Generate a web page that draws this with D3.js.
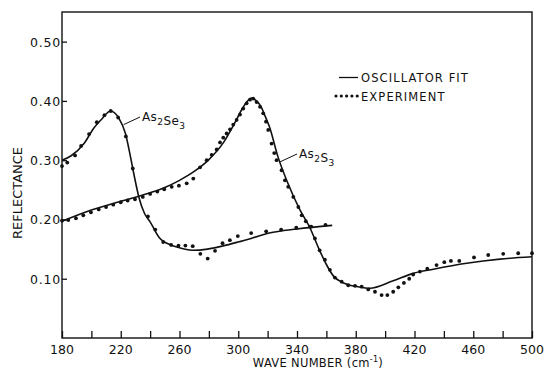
<!DOCTYPE html>
<html>
<head>
<meta charset="utf-8">
<script src="https://cdn.jsdelivr.net/npm/d3@7"></script>
<style>
  body { margin: 0; background: #fff; }
  svg text { font-family: "DejaVu Sans", "Liberation Sans", Arial, sans-serif; fill: #111; }
</style>
</head>
<body>
<div id="chart"></div>
<script>
// tick values
const xTicks = [180, 200, 220, 240, 260, 280, 300, 320, 340, 360, 380, 400, 420, 440, 460, 480, 500];
const xTickLabels = [180, 220, 260, 300, 340, 380, 420, 460, 500];
const yTickLabels = [0.10, 0.20, 0.30, 0.40, 0.50];

// As2Se3 oscillator fit [wave number, reflectance]
const seFit = [[180, 0.300], [186, 0.307], [195, 0.328], [201.6, 0.354], [207.3, 0.370], [213, 0.383],
  [218.7, 0.371], [223.2, 0.345], [226.6, 0.306], [229.3, 0.272], [232.3, 0.238], [236.2, 0.210],
  [240, 0.196], [246, 0.170], [255, 0.156], [262, 0.151], [269, 0.148], [279, 0.150], [289, 0.155],
  [300, 0.162], [310, 0.169], [321, 0.177], [340, 0.184], [364, 0.190]];

// As2Se3 experiment
const seExp = [[180, 0.290], [183.6, 0.296], [188.9, 0.308], [193, 0.324], [198.4, 0.344], [203.7, 0.364],
  [208.9, 0.376], [213.2, 0.383], [218.2, 0.372], [223.5, 0.340], [228.2, 0.286], [238.5, 0.205],
  [243.5, 0.183], [248.9, 0.162], [254.3, 0.157], [259.3, 0.156], [264, 0.156], [269, 0.155],
  [274.2, 0.142], [279.2, 0.134], [284.2, 0.147], [289.3, 0.160], [294.3, 0.165], [299.7, 0.172],
  [308.8, 0.177], [319, 0.180], [329.2, 0.183], [339.5, 0.186], [349.7, 0.188], [359.4, 0.191]];

// As2S3 oscillator fit
const sFit = [[180, 0.197], [200, 0.216], [222, 0.232], [240, 0.245], [250, 0.254], [260, 0.266],
  [270, 0.281], [280, 0.301], [290, 0.330], [297, 0.360], [303, 0.388], [306, 0.399], [309, 0.405],
  [312, 0.401], [315.6, 0.390], [318, 0.376], [321.3, 0.356], [327, 0.306], [333.8, 0.261],
  [342, 0.216], [348.8, 0.186], [355, 0.150], [360, 0.124], [365, 0.104], [370, 0.095],
  [375, 0.090], [381.5, 0.0865], [389.5, 0.084], [405, 0.096], [419, 0.109], [432.8, 0.116],
  [455.5, 0.126], [478.2, 0.133], [500, 0.137]];

// As2S3 experiment
const sExp = [[180, 0.198], [184.3, 0.199], [189.5, 0.202], [194.5, 0.207], [199.7, 0.212], [205, 0.217],
  [210, 0.221], [214.9, 0.225], [220, 0.229], [224.7, 0.232], [229.7, 0.234], [235, 0.238],
  [240, 0.243], [244.9, 0.247], [249.6, 0.251], [254.7, 0.255], [259.6, 0.257], [264.9, 0.261],
  [269.4, 0.269], [274, 0.288], [278.5, 0.300], [281.9, 0.309], [285.3, 0.318], [287.6, 0.330],
  [289.8, 0.338], [292.1, 0.345], [294.4, 0.352], [296.6, 0.360], [298.9, 0.368], [301.2, 0.377],
  [303.4, 0.387], [305.7, 0.396], [308, 0.402], [310.2, 0.404], [312.5, 0.398], [314.8, 0.390],
  [317, 0.379], [318.9, 0.365], [320.4, 0.351], [322.7, 0.328], [324.5, 0.312], [326.1, 0.300],
  [329.5, 0.283], [331.8, 0.266], [334, 0.255], [337.5, 0.238], [340.9, 0.221], [343.2, 0.207],
  [346, 0.197], [348.8, 0.188], [352.2, 0.168], [355.4, 0.148], [359, 0.132], [362.4, 0.115],
  [365.8, 0.102], [370.4, 0.095], [374.9, 0.089], [379.5, 0.088], [384, 0.0866], [388.5, 0.082],
  [393.1, 0.078], [397.6, 0.0725], [401.5, 0.0725], [405.5, 0.078], [409, 0.0855], [412.8, 0.093],
  [416.4, 0.100], [419.1, 0.107], [423.7, 0.112], [428.7, 0.117], [435, 0.123], [440.3, 0.128],
  [444.8, 0.130], [450.5, 0.130], [460.5, 0.136], [470.2, 0.140], [480.4, 0.142], [490.6, 0.143],
  [500, 0.143]];

const width = 548, height = 370;
const margin = { top: 12, right: 16, bottom: 32, left: 62 };

const svg = d3.select("#chart").append("svg")
  .attr("width", width)
  .attr("height", height);

const x = d3.scaleLinear().domain([180, 500]).range([margin.left, width - margin.right]);
const y = d3.scaleLinear().domain([0, 0.55]).range([height - margin.bottom, margin.top]);

// frame
svg.append("rect")
  .attr("x", x(180)).attr("y", y(0.55))
  .attr("width", x(500) - x(180)).attr("height", y(0) - y(0.55))
  .attr("fill", "none").attr("stroke", "#111").attr("stroke-width", 1.4);

// x axis: ticks point inward
const xAxis = svg.append("g")
  .attr("transform", `translate(0,${y(0)})`)
  .call(d3.axisTop(x).tickValues(xTicks).tickSize(7).tickFormat(""));
xAxis.select(".domain").remove();
xAxis.selectAll(".tick line").attr("stroke", "#111").attr("stroke-width", 1.3);

svg.append("g").selectAll("text")
  .data(xTickLabels)
  .enter().append("text")
  .attr("x", d => x(d))
  .attr("y", y(0) + 16)
  .attr("text-anchor", "middle")
  .style("font-size", "12.5px")
  .text(d => d);

// y axis
const yAxis = svg.append("g")
  .attr("transform", `translate(${x(180)},0)`)
  .call(d3.axisRight(y).tickValues(yTickLabels).tickSize(5).tickFormat(""));
yAxis.select(".domain").remove();
yAxis.selectAll(".tick line").attr("stroke", "#111").attr("stroke-width", 1.3);

svg.append("g").selectAll("text")
  .data(yTickLabels)
  .enter().append("text")
  .attr("x", x(180) - 1)
  .attr("y", d => y(d) + 5)
  .attr("text-anchor", "end")
  .style("font-size", "12.5px")
  .style("letter-spacing", "0.8px")
  .text(d => d.toFixed(2));

// axis titles
svg.append("text")
  .attr("transform", `translate(22,193) rotate(-90)`)
  .attr("text-anchor", "middle")
  .style("font-size", "13px")
  .text("REFLECTANCE");

const xTitle = svg.append("text")
  .attr("x", 318)
  .attr("y", 367)
  .attr("text-anchor", "middle")
  .style("font-size", "11.5px")
  .style("letter-spacing", "0.3px");
xTitle.append("tspan").text("WAVE NUMBER  (cm");
xTitle.append("tspan").attr("dy", -5).style("font-size", "8px").text("-1");
xTitle.append("tspan").attr("dy", 5).text(")");

// curves
const line = d3.line()
  .x(d => x(d[0]))
  .y(d => y(d[1]))
  .curve(d3.curveMonotoneX);

[seFit, sFit].forEach(series => {
  svg.append("path")
    .datum(series)
    .attr("fill", "none")
    .attr("stroke", "#111")
    .attr("stroke-width", 1.6)
    .attr("d", line);
});

[seExp, sExp].forEach(series => {
  svg.append("g").selectAll("circle")
    .data(series)
    .enter().append("circle")
    .attr("cx", d => x(d[0]))
    .attr("cy", d => y(d[1]))
    .attr("r", 1.9)
    .attr("fill", "#111");
});

// curve labels with leader lines
function chemLabel(tx, ty, parts) {
  const t = svg.append("text").attr("x", tx).attr("y", ty)
    .style("font-size", "12px").style("letter-spacing", "0.4px");
  parts.forEach(p => {
    if (p.sub) {
      t.append("tspan").attr("dy", 4).style("font-size", "9px").text(p.s);
      t.append("tspan").attr("dy", -4).text("");
    } else {
      t.append("tspan").text(p.s);
    }
  });
}

svg.append("line")
  .attr("x1", 140).attr("y1", 117)
  .attr("x2", x(222)).attr("y2", y(0.36))
  .attr("stroke", "#111").attr("stroke-width", 1);
chemLabel(142, 121, [{ s: "As" }, { s: "2", sub: true }, { s: "Se" }, { s: "3", sub: true }]);

svg.append("line")
  .attr("x1", 297).attr("y1", 154)
  .attr("x2", x(328.3)).attr("y2", y(0.297))
  .attr("stroke", "#111").attr("stroke-width", 1);
chemLabel(299, 158, [{ s: "As" }, { s: "2", sub: true }, { s: "S" }, { s: "3", sub: true }]);

// legend
const legend = svg.append("g");
legend.append("line")
  .attr("x1", 339).attr("x2", 358)
  .attr("y1", 77.5).attr("y2", 77.5)
  .attr("stroke", "#111").attr("stroke-width", 1.3);
legend.append("text")
  .attr("x", 361).attr("y", 82)
  .style("font-size", "11.5px")
  .style("letter-spacing", "1.1px")
  .text("OSCILLATOR FIT");
legend.selectAll("circle")
  .data([0, 1, 2, 3, 4])
  .enter().append("circle")
  .attr("cx", d => 336 + d * 5.3)
  .attr("cy", 96)
  .attr("r", 1.6)
  .attr("fill", "#111");
legend.append("text")
  .attr("x", 361).attr("y", 100.5)
  .style("font-size", "11.5px")
  .style("letter-spacing", "1.1px")
  .text("EXPERIMENT");
</script>
</body>
</html>
